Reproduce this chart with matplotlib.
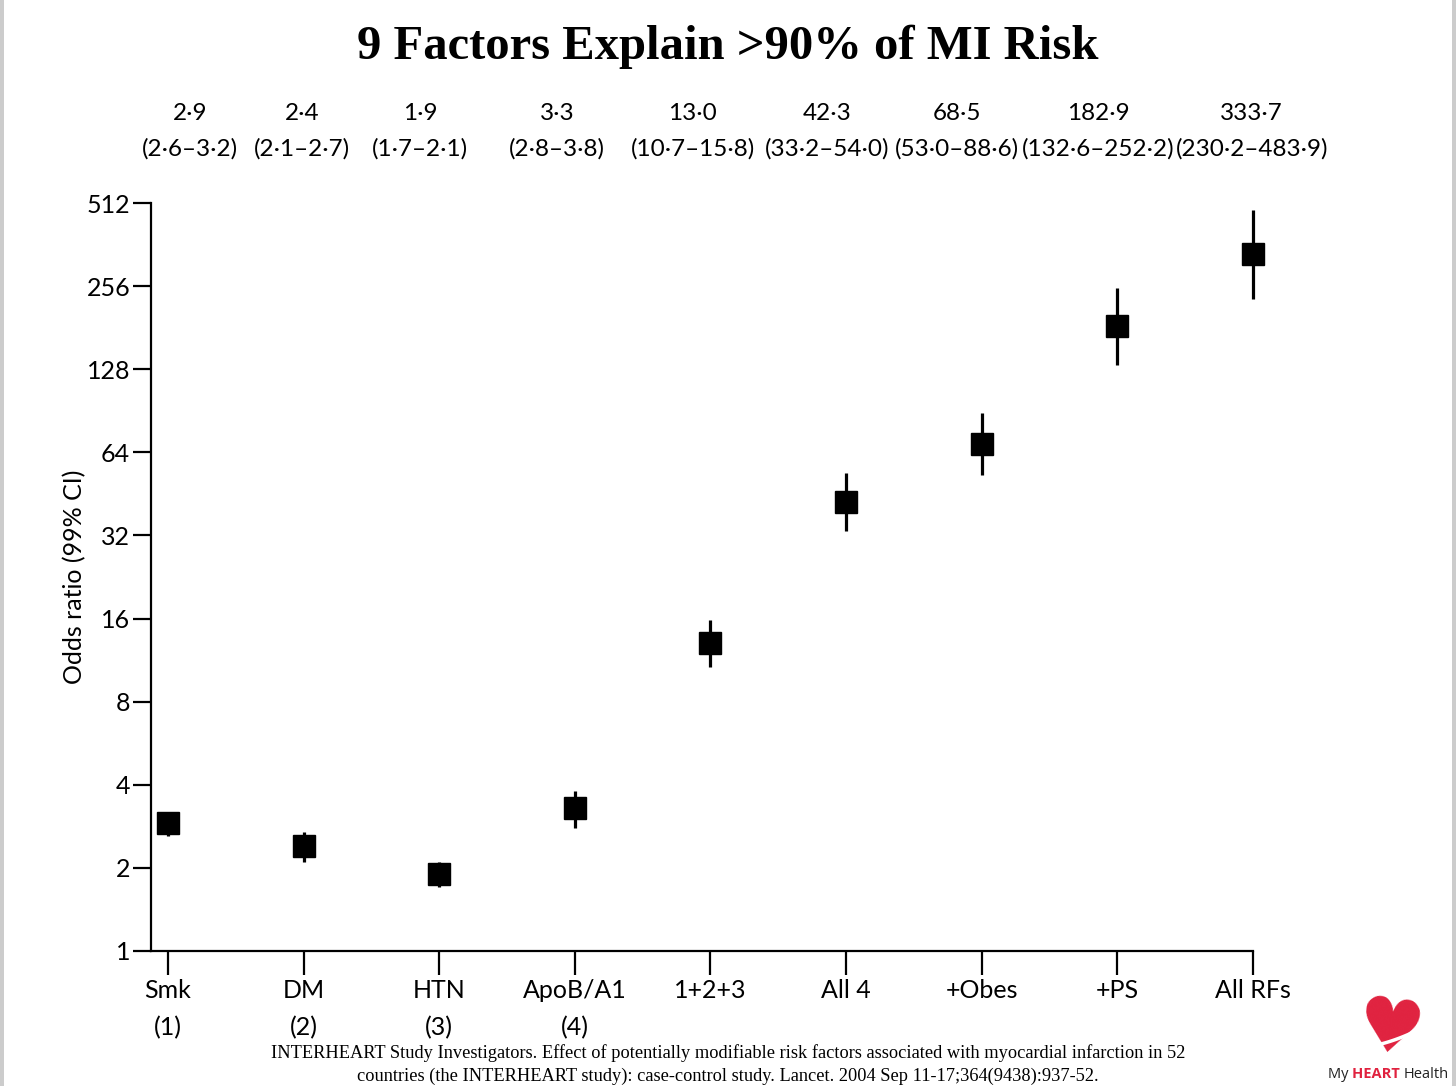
import numpy as np
import matplotlib
matplotlib.use("Agg")
import matplotlib.pyplot as plt
from matplotlib.patches import Rectangle

# data (INTERHEART odds ratios, 99% CI)
factors = ["Smk\n(1)", "DM\n(2)", "HTN\n(3)", "ApoB/A1\n(4)", "1+2+3", "All 4", "+Obes", "+PS", "All RFs"]
odds = [2.9, 2.4, 1.9, 3.3, 13.0, 42.3, 68.5, 182.9, 333.7]
ci_low = [2.6, 2.1, 1.7, 2.8, 10.7, 33.2, 53.0, 132.6, 230.2]
ci_high = [3.2, 2.7, 2.1, 3.8, 15.8, 54.0, 88.6, 252.2, 483.9]
yticks = [1, 2, 4, 8, 16, 32, 64, 128, 256, 512]

# text positions for the odds/CI labels above the plot (offset from category, data units)
label_shift = [0.16, -0.01, -0.14, -0.13, -0.13, -0.14, -0.18, -0.14, -0.01]

def fmt(v):
    return f"{v:.1f}".replace(".", "\u00b7")

plt.rcParams["font.family"] = ["Lato", "DejaVu Sans"]

fig = plt.figure(figsize=(14.56, 10.86), dpi=100)
ax = fig.add_axes([151 / 1456, 1 - 951 / 1086, (1253 - 151) / 1456, (951 - 203) / 1086])

x = np.arange(len(odds))
yerr = [np.array(odds) - np.array(ci_low), np.array(ci_high) - np.array(odds)]
ax.errorbar(x, odds, yerr=yerr, fmt="s", color="black", ms=16, elinewidth=2.3,
            capsize=0, clip_on=False, zorder=3)

ax.set_yscale("log", base=2)
ax.set_ylim(1, 512)
ax.set_xlim(-0.125, 8)
ax.set_yticks(yticks)
ax.set_yticklabels([str(t) for t in yticks])
ax.minorticks_off()
ax.set_xticks(x)
ax.set_xticklabels(factors, fontsize=18, linespacing=1.75, va="top")

for s in ["top", "right"]:
    ax.spines[s].set_visible(False)
for s in ["left", "bottom"]:
    ax.spines[s].set_linewidth(1.6)
ax.tick_params(axis="y", direction="out", length=13, width=1.6, labelsize=18, pad=2)
ax.tick_params(axis="x", direction="out", length=17, width=1.6, pad=3)
ax.set_ylabel("Odds ratio (99% CI)", fontsize=18, labelpad=0)

# odds ratio and CI labels above the axes
for i in range(len(odds)):
    xt = i + label_shift[i]
    ax.annotate(fmt(odds[i]), xy=(xt, 1), xycoords=("data", "axes fraction"),
                xytext=(0, 89), textcoords="offset pixels",
                ha="center", va="center", fontsize=17.5)
    ax.annotate(f"({fmt(ci_low[i])}\u2013{fmt(ci_high[i])})", xy=(xt, 1),
                xycoords=("data", "axes fraction"),
                xytext=(0, 54), textcoords="offset pixels",
                ha="center", va="center", fontsize=17.5)

fig.text(0.5, 1 - 47 / 1086, "9 Factors Explain >90% of MI Risk", ha="center", va="center",
         fontsize=35, fontweight="bold", family="Liberation Serif")

fig.text(0.5, 1 - 1053 / 1086,
         "INTERHEART Study Investigators. Effect of potentially modifiable risk factors associated with myocardial infarction in 52",
         ha="center", va="center", fontsize=13.2, family="Liberation Serif")
fig.text(0.5, 1 - 1076 / 1086,
         "countries (the INTERHEART study): case-control study. Lancet. 2004 Sep 11-17;364(9438):937-52.",
         ha="center", va="center", fontsize=13.2, family="Liberation Serif")

# logo: heart with swoosh
fig.text(1389 / 1456, 1 - 1032 / 1086, "\u2665", ha="center", va="center", fontsize=54,
         color="#e0223f", family="DejaVu Sans", rotation=-8)
t = np.linspace(0, 1, 30)
sx = 1362 + 56 * t
sy = 1047 - 17 * t ** 1.6
fig.add_artist(plt.Line2D(sx / 1456, 1 - sy / 1086, color="white", lw=2.5, zorder=6))

renderer = fig.canvas.get_renderer()
xpos = 1328
for part, weight, col in [("My ", "normal", "#222222"), ("HEART ", "bold", "#e0223f"), ("Health", "normal", "#222222")]:
    tx = fig.text(xpos / 1456, 1 - 1074 / 1086, part, ha="left", va="center", fontsize=10.5,
                  family="Open Sans", fontweight=weight, color=col)
    xpos += tx.get_window_extent(renderer).width

# gray page edges
fig.add_artist(Rectangle((0, 0), 4 / 1456, 1, transform=fig.transFigure, color="#cccccc", lw=0))
fig.add_artist(Rectangle((1452 / 1456, 0), 4 / 1456, 1, transform=fig.transFigure, color="#cccccc", lw=0))

fig.savefig("out.png", dpi=100)
